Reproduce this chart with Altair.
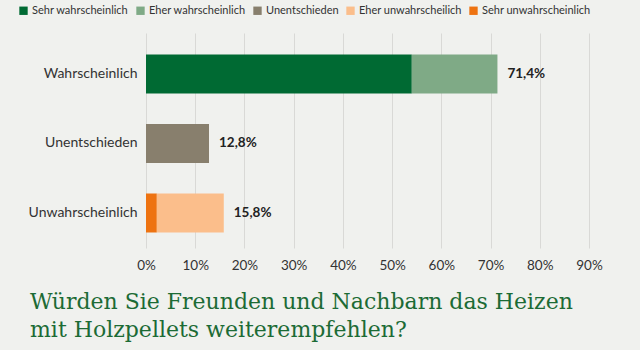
import altair as alt
import pandas as pd

categories = ["Wahrscheinlich", "Unentschieden", "Unwahrscheinlich"]
series = ["Sehr wahrscheinlich", "Eher wahrscheinlich", "Unentschieden",
          "Eher unwahrscheilich", "Sehr unwahrscheinlich"]
colors = ["#006a33", "#7faa86", "#887f6d", "#fbbe8b", "#ee7311"]
# segments: (category, series, value in %)
seg_cat = ["Wahrscheinlich", "Wahrscheinlich", "Unentschieden", "Unwahrscheinlich", "Unwahrscheinlich"]
seg_ser = ["Sehr wahrscheinlich", "Eher wahrscheinlich", "Unentschieden", "Sehr unwahrscheinlich", "Eher unwahrscheilich"]
seg_val = [54.0, 17.4, 12.8, 2.2, 13.6]
seg_order = [0, 1, 0, 0, 1]
totals = [71.4, 12.8, 15.8]
total_labels = ["71,4%", "12,8%", "15,8%"]

seg_df = pd.DataFrame({"cat": seg_cat, "ser": seg_ser, "val": [v / 100 for v in seg_val], "ord": seg_order})
tot_df = pd.DataFrame({"cat": categories, "tot": [t / 100 for t in totals], "lab": total_labels})

FONT = "Lato"

y_enc = alt.Y("cat:N", sort=categories, title=None,
              scale=alt.Scale(paddingInner=0.44, paddingOuter=0.266, align=0.58),
              axis=alt.Axis(labelFont=FONT, labelFontSize=14, labelColor="#333333",
                            labelPadding=9, ticks=False, domain=False, grid=False))

bars = alt.Chart(seg_df).mark_bar(size=39).encode(
    x=alt.X("val:Q", stack="zero", title=None,
            scale=alt.Scale(domain=[0, 0.9], nice=False),
            axis=alt.Axis(format=".0%", values=[i / 10 for i in range(10)],
                          labelFont=FONT, labelFontSize=13.5, labelColor="#333333",
                          labelPadding=10, labelFlush=False, ticks=False, domain=False,
                          grid=True, gridColor="#d9d9d6", gridWidth=1)),
    y=y_enc,
    color=alt.Color("ser:N", scale=alt.Scale(domain=series, range=colors),
                    legend=alt.Legend(title=None, orient="none", direction="horizontal",
                                      legendX=-128, legendY=-28,
                                      symbolType="square", symbolSize=70,
                                      symbolStrokeWidth=0, symbolOpacity=1,
                                      labelFont=FONT, labelFontSize=11, labelColor="#333333",
                                      labelOffset=3, columnPadding=6)),
    order=alt.Order("ord:Q"),
)

labels = alt.Chart(tot_df).mark_text(align="left", dx=10, font=FONT, fontSize=13.5,
                                     fontWeight="bold", color="#222222").encode(
    x=alt.X("tot:Q"),
    y=alt.Y("cat:N", sort=categories),
    text="lab:N",
)

chart = alt.layer(bars, labels).properties(
    width=443, height=215,
    background="#f0f1ee",
    padding={"left": 146, "top": 33, "right": 51, "bottom": 102},
    autosize=alt.AutoSizeParams(type="none"),
    title=alt.TitleParams(
        ["Würden Sie Freunden und Nachbarn das Heizen", "mit Holzpellets weiterempfehlen?"],
        orient="bottom", anchor="start", frame="group", dx=-116, offset=20,
        font="DejaVu Serif", fontSize=22, fontWeight="normal", color="#1c6b35",
        lineHeight=28),
).configure_view(stroke=None)

chart.save("out.html", embed_options={"renderer": "svg", "actions": False})
